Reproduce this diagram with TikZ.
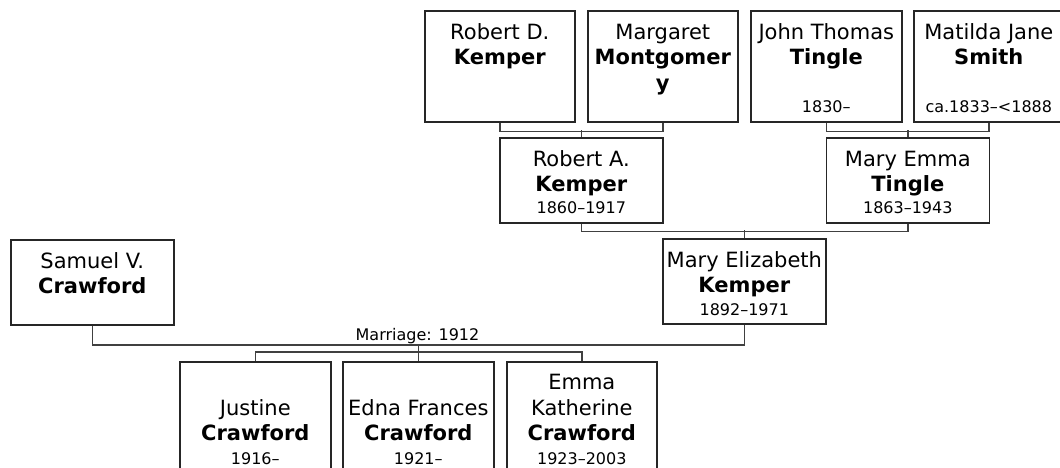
\documentclass[tikz,border=0pt]{standalone}
\usepackage{fontspec}
\setmainfont{DejaVu Sans}
\begin{document}
\begin{tikzpicture}[x=1pt,y=-1pt,
  person/.style={draw=black!85, line width=1.6pt, anchor=north west, inner sep=0pt, rectangle},
  nm/.style={anchor=north, align=center, inner sep=0pt, font=\fontsize{21}{25.5}\selectfont},
  dt/.style={anchor=base, inner sep=0pt, font=\fontsize{16}{18}\selectfont},
  conn/.style={draw=black!75, line width=1.6pt}]
\useasboundingbox (0,0) rectangle (1060,468);
\clip (0,0) rectangle (1060,468);
% boxes
\node[person, minimum width=150, minimum height=111] (rdk) at (424,10) {};
\node[person, minimum width=150, minimum height=111] (mm) at (587,10) {};
\node[person, minimum width=151, minimum height=111] (jtt) at (750,10) {};
\node[person, minimum width=150, minimum height=111] (mjs) at (913,10) {};
\node[person, minimum width=163, minimum height=85] (rak) at (499,137) {};
\node[person, minimum width=163, minimum height=85] (met) at (825.5,137) {};
\node[person, minimum width=163, minimum height=85] (mek) at (662,238) {};
\node[person, minimum width=163, minimum height=85] (svc) at (10,239) {};
\node[person, minimum width=151, minimum height=112] (jc) at (179,361) {};
\node[person, minimum width=151, minimum height=112] (efc) at (342,361) {};
\node[person, minimum width=150, minimum height=112] (ekc) at (506,361) {};
% names
\node[nm] (rdkn) at ([yshift=-11]rdk.north) {\strut Robert D.\\\textbf{Kemper}};
\node[nm] (mmn) at ([yshift=-11]mm.north) {\strut Margaret\\\textbf{Montgomer}\\\textbf{y}};
\node[nm] (jttn) at ([yshift=-11]jtt.north) {\strut John Thomas\\\textbf{Tingle}};
\node[nm] (mjsn) at ([yshift=-11]mjs.north) {\strut Matilda Jane\\\textbf{Smith}};
\node[nm] (rakn) at ([yshift=-11]rak.north) {\strut Robert A.\\\textbf{Kemper}};
\node[nm] (metn) at ([yshift=-11]met.north) {\strut Mary Emma\\\textbf{Tingle}};
\node[nm] (mekn) at ([yshift=-11]mek.north) {\strut Mary Elizabeth\\\textbf{Kemper}};
\node[nm] (svcn) at ([yshift=-11]svc.north) {\strut Samuel V.\\\textbf{Crawford}};
\node[nm] (jcn) at ([yshift=-36]jc.north) {\strut Justine\\\textbf{Crawford}};
\node[nm] (efcn) at ([yshift=-36]efc.north) {\strut Edna Frances\\\textbf{Crawford}};
\node[nm] (ekcn) at ([yshift=-10.5]ekc.north) {\strut Emma\\Katherine\\\textbf{Crawford}};
% dates
\node[dt] (jttd) at ([yshift=10]jtt.south) {1830–};
\node[dt] (mjsd) at ([yshift=10]mjs.south) {ca.1833–<1888};
\node[dt] (rakd) at ([yshift=10]rak.south) {1860–1917};
\node[dt] (metd) at ([yshift=10]met.south) {1863–1943};
\node[dt] (mekd) at ([yshift=9.5]mek.south) {1892–1971};
\node[dt] (jcd) at ([yshift=10]jc.south) {1916–};
\node[dt] (efcd) at ([yshift=10]efc.south) {1921–};
\node[dt] (ekcd) at ([yshift=10]ekc.south) {1923–2003};
% connectors
\draw[conn] (rdk.south) -- ++(0,9) -| (mm.south);
\draw[conn] (rak.north) -- ++(0,-7);
\draw[conn] (jtt.south) -- ++(0,9) -| (mjs.south);
\draw[conn] (met.north) -- ++(0,-7);
\draw[conn] (rak.south) -- ++(0,8) -| (met.south);
\draw[conn] (mek.north) -- ++(0,-8);
\draw[conn] (svc.south) |- ([yshift=16]efc.north) -| (mek.south);
\draw[conn] (efc.north) -- ++(0,-16);
\draw[conn] (jc.north) -- ++(0,-9) -| (ekc.north);
\node[anchor=base, inner sep=0pt, font=\fontsize{16}{18}\selectfont] (mar) at (417.5,340) {Marriage: 1912};
\end{tikzpicture}
\end{document}
